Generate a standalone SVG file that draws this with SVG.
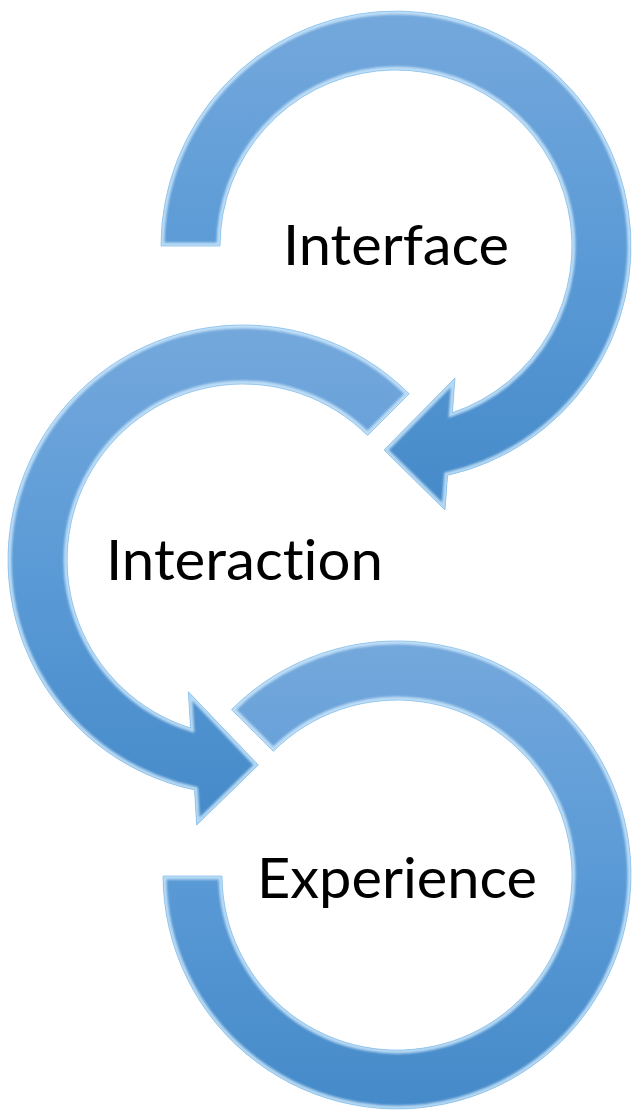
<svg xmlns="http://www.w3.org/2000/svg" xmlns:xlink="http://www.w3.org/1999/xlink" width="641" height="1110" viewBox="0 0 641 1110">
<style>
.rim{fill:none;stroke:#d8f0ff;stroke-width:7;stroke-opacity:0.75;stroke-linejoin:miter}
.edge{fill:none;stroke:#8cc3ef;stroke-width:1;stroke-opacity:0.8}
.lbl{font-family:Lato,"Open Sans","Liberation Sans",sans-serif;font-size:57px;fill:#000;font-variant-ligatures:none;font-feature-settings:"liga" 0,"dlig" 0}
</style>
<defs>
<linearGradient id="g" x1="0" y1="0" x2="0" y2="1">
<stop offset="0" stop-color="#74a8dc"/>
<stop offset="0.5" stop-color="#5a9ad6"/>
<stop offset="1" stop-color="#458ac9"/>
</linearGradient>
<filter id="soft" x="-5%" y="-5%" width="110%" height="110%"><feGaussianBlur stdDeviation="1.3"/></filter>
<path id="p1" d="M161,246 A235,235 0 1 1 447.6,475.3 L445,510 L384,450 L455,378 L452.4,412.7 A176,176 0 1 0 220,246 Z"/>
<path id="p2" d="M409.2,393.8 A235,235 0 1 0 194.5,789.9 L196.7,825 L258.3,765 L188.3,691.7 L190.6,728 A176,176 0 1 1 367.5,435.5 Z"/>
<path id="p3" d="M231.5,709.5 A234,234 0 1 1 163,876 L222,876 A175,175 0 1 0 273.3,751.3 Z"/>
<clipPath id="c1"><use xlink:href="#p1"/></clipPath>
<clipPath id="c2"><use xlink:href="#p2"/></clipPath>
<clipPath id="c3"><use xlink:href="#p3"/></clipPath>
</defs>
<rect width="641" height="1110" fill="#ffffff"/>
<g id="connectors">
<g id="arrow-interface">
<use xlink:href="#p1" fill="url(#g)"/>
<g clip-path="url(#c1)"><use xlink:href="#p1" class="rim" filter="url(#soft)"/></g>
<use xlink:href="#p1" class="edge"/>
</g>
<g id="arrow-interaction">
<use xlink:href="#p2" fill="url(#g)"/>
<g clip-path="url(#c2)"><use xlink:href="#p2" class="rim" filter="url(#soft)"/></g>
<use xlink:href="#p2" class="edge"/>
</g>
<g id="arrow-experience">
<use xlink:href="#p3" fill="url(#g)"/>
<g clip-path="url(#c3)"><use xlink:href="#p3" class="rim" filter="url(#soft)"/></g>
<use xlink:href="#p3" class="edge"/>
</g>
</g>
<g id="node-interface"><text class="lbl" x="283" y="265" textLength="226" lengthAdjust="spacingAndGlyphs">Interface</text></g>
<g id="node-interaction"><text class="lbl" x="106" y="580" textLength="277" lengthAdjust="spacingAndGlyphs">Interaction</text></g>
<g id="node-experience"><text class="lbl" x="257" y="898" textLength="280" lengthAdjust="spacingAndGlyphs">Experience</text></g>
</svg>
